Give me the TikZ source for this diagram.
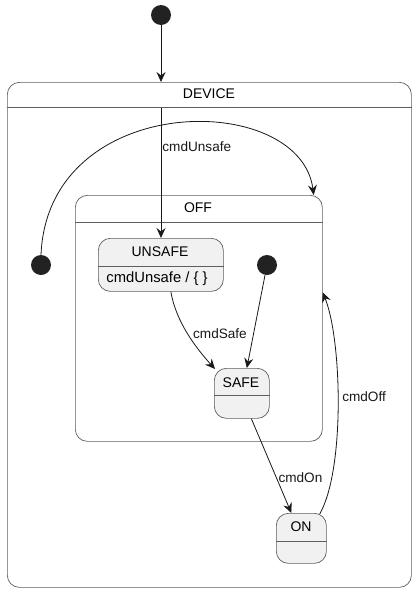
\documentclass[tikz,border=0pt]{standalone}
\usepackage{fontspec}
\setmainfont{Liberation Sans}
\usetikzlibrary{arrows.meta}
\definecolor{boxgray}{HTML}{5E5E5E}
\definecolor{statefill}{HTML}{F1F1F1}
\definecolor{dotfill}{HTML}{222222}
\newcommand{\hdrline}[2]{\draw[boxgray,line width=0.7pt] (#1.west |- 0,#2) -- (#1.east |- 0,#2);}

\begin{document}
\begin{tikzpicture}[x=1pt,y=-1pt,
        every node/.style={font=\fontsize{14}{16}\selectfont},
        lbl/.style={font=\fontsize{13.6}{15}\selectfont,inner sep=1pt},
        dot/.style={circle,fill=dotfill,minimum size=20,inner sep=0},
        cont/.style={draw=boxgray,line width=0.7pt,rounded corners=12,fill=white,inner sep=0},
        state/.style={draw=boxgray,line width=0.7pt,rounded corners=12,fill=statefill,inner sep=0},
        tr/.style={-{Stealth[length=10pt,width=9pt,inset=3.5pt]},line width=0.8pt,black!90}
    ]
    \useasboundingbox (0,0) rectangle (417,592);

    \node[dot] (init) at (161,15) {};
    \node[cont,anchor=north west,minimum width=404,minimum height=505] (device) at (7,82) {};
    \hdrline{device}{107}
    \node (deviceT) at (209,94) {DEVICE};

    \node[dot] (initL) at (41,265) {};
    \node[cont,anchor=north west,minimum width=247,minimum height=246] (off) at (75,195) {};
    \hdrline{off}{222}
    \node (offT) at (198,208) {OFF};

    \node[state,anchor=north west,minimum width=125,minimum height=53] (unsafe) at (98,238) {};
    \hdrline{unsafe}{266}
    \node (unsafeT) at (160,252) {UNSAFE};
    \node[font=\fontsize{14.8}{16}\selectfont] (unsafeB) at (157,279) {cmdUnsafe / \{ \}};

    \node[dot] (initI) at (267,265) {};

    \node[state,anchor=north west,minimum width=55,minimum height=50] (safe) at (214,368) {};
    \hdrline{safe}{395}
    \node (safeT) at (241,383) {SAFE};

    \node[state,anchor=north west,minimum width=50,minimum height=50] (on) at (276,513) {};
    \hdrline{on}{541}
    \node (onT) at (301,527) {ON};

    \coordinate (dtop) at (161,108);
    \draw[tr] (init) -- (init |- device.north);
    \draw[tr] (dtop) -- (dtop |- unsafe.north) node[lbl,pos=0.3,right] {cmdUnsafe};
    \draw[tr] (initL.north) .. controls (48,90) and (300,90) .. ([xshift=-9]off.north east);
    \draw[tr] ([xshift=10]unsafe.south) .. controls (176,322) and (196,348) .. ([shift={(1,1)}]safe.north west)
        node[lbl,pos=0.5,right=4] {cmdSafe};
    \draw[tr] (initI) -- ([xshift=5]safe.north);
    \draw[tr] ([xshift=9.5]safe.south) -- ([xshift=-10]on.north) node[lbl,pos=0.62,right=1] {cmdOn};
    \draw[tr] ([xshift=-7,yshift=-1]on.north east) .. controls (345,470) and (342,340) .. ([yshift=26]off.east)
        node[lbl,pos=0.53,right=3] {cmdOff};
\end{tikzpicture}
\end{document}
